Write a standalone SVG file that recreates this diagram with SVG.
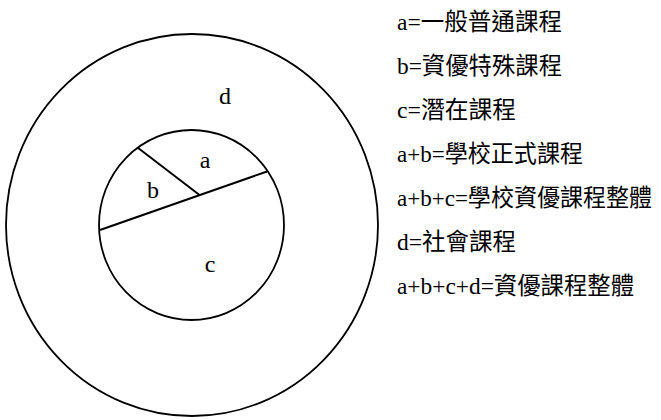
<svg xmlns="http://www.w3.org/2000/svg" width="661" height="420" viewBox="0 0 661 420">
<style>
.ring{fill:none;stroke:#000;stroke-width:1.8}
.div{stroke:#000;stroke-width:2;fill:none}
.lbl{font-family:"Liberation Serif","Times New Roman",serif;font-size:24px;fill:#000;text-anchor:middle}
.leg{font-family:"Liberation Serif","Noto Sans CJK TC",serif;font-size:24px;fill:#000}
</style>
<rect width="661" height="420" fill="#fff"/>
<g id="outer"><ellipse class="ring" cx="192" cy="225" rx="186" ry="191"/><text class="lbl" x="225" y="104">d</text></g>
<g id="inner"><ellipse class="ring" cx="191.5" cy="225" rx="92.5" ry="95"/></g>
<g id="connectors">
<line class="div" x1="100" y1="230" x2="267" y2="171.5"/>
<line class="div" x1="137.5" y1="147.5" x2="199.5" y2="195"/>
</g>
<g id="region-a"><text class="lbl" x="205" y="168">a</text></g>
<g id="region-b"><text class="lbl" x="153" y="198">b</text></g>
<g id="region-c"><text class="lbl" x="210" y="272">c</text></g>
<g id="legend">
<text class="leg" x="397" y="30" textLength="165" lengthAdjust="spacingAndGlyphs">a=一般普通課程</text>
<text class="leg" x="397" y="74" textLength="165" lengthAdjust="spacingAndGlyphs">b=資優特殊課程</text>
<text class="leg" x="397" y="118" textLength="119" lengthAdjust="spacingAndGlyphs">c=潛在課程</text>
<text class="leg" x="397" y="162" textLength="186" lengthAdjust="spacingAndGlyphs">a+b=學校正式課程</text>
<text class="leg" x="397" y="206" textLength="255" lengthAdjust="spacingAndGlyphs">a+b+c=學校資優課程整體</text>
<text class="leg" x="397" y="250" textLength="119" lengthAdjust="spacingAndGlyphs">d=社會課程</text>
<text class="leg" x="397" y="294" textLength="237" lengthAdjust="spacingAndGlyphs">a+b+c+d=資優課程整體</text>
</g>
</svg>
